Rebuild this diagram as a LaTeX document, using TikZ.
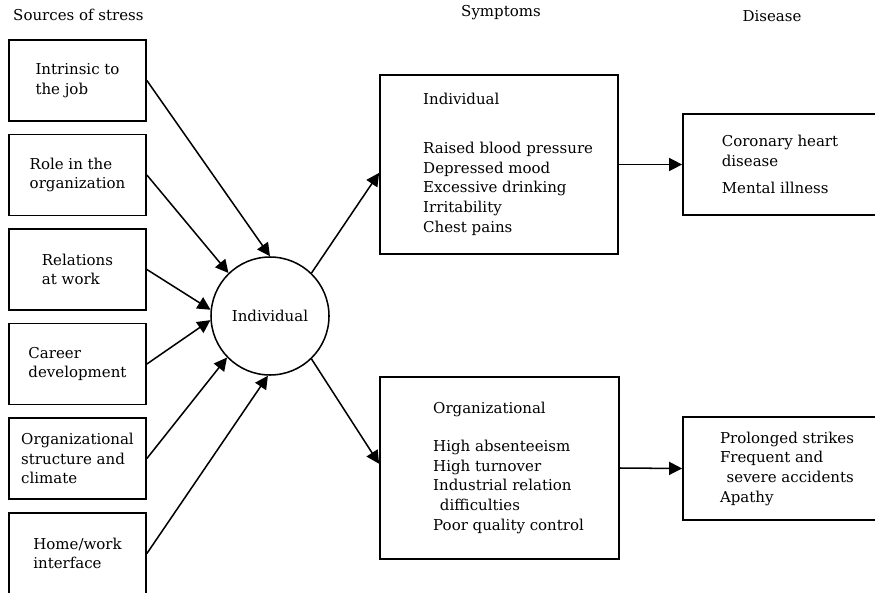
\documentclass[tikz,border=0pt]{standalone}
\usepackage{fontspec}
\setmainfont{DejaVu Serif}
\usetikzlibrary{arrows.meta,positioning}

\begin{document}
\begin{tikzpicture}[
  x=0.03cm, y=-0.03cm,
  font=\fontsize{12.8}{16.8}\selectfont,
  box/.style={draw, line width=1.5pt, align=left, inner sep=0pt},
  srcbox/.style={box, minimum width=4.11cm, minimum height=2.43cm},
  hub/.style={circle, draw, line width=1.3pt, minimum size=3.54cm, inner sep=0pt},
  head/.style={inner sep=0pt},
  list/.style={align=left, inner sep=0pt, anchor=west},
  edge/.style={-{Triangle[length=3.9mm, width=3.9mm]}, line width=1.3pt},
]
  \useasboundingbox (0,0) rectangle (875,592);

  \node[head, anchor=west] (hsrc) at (13,15) {Sources of stress};
  \node[head] (hsym) at (501,13) {Symptoms};
  \node[head] (hdis) at (772,16) {Disease};

  \node[srcbox] (s1) at (77.5,80.5) {Intrinsic to\\the job};
  \node[srcbox] (s2) at (77.5,175) {Role in the\\organization};
  \node[srcbox] (s3) at (77.5,269.5) {Relations\\at work};
  \node[srcbox] (s4) at (77.5,364) {Career\\development};
  \node[srcbox] (s5) at (77.5,458.5) {Organizational\\structure and\\climate};
  \node[srcbox] (s6) at (77.5,553.5) {Home/work\\interface};

  \node[hub] (ind) at (270,316) {Individual};

  \node[box, minimum width=7.14cm, minimum height=5.37cm] (sym1) at (499,164.5) {};
  \node[list] (sym1txt) at (423,164.5)
    {Individual\\[0.87cm]Raised blood pressure\\Depressed mood\\Excessive drinking\\Irritability\\Chest pains};
  \node[box, minimum width=7.17cm, minimum height=5.46cm] (sym2) at (499.5,468) {};
  \node[list] (sym2txt) at (433,468)
    {Organizational\\[0.54cm]High absenteeism\\High turnover\\Industrial relation\\\hspace*{0.2cm}difficulties\\Poor quality control};

  \node[box, minimum width=5.82cm, minimum height=3.03cm] (dis1) at (780,164.5)
    {Coronary heart\\disease\\[0.21cm]Mental illness};
  \node[box, minimum width=6.24cm, minimum height=3.09cm] (dis2) at (787,468.5)
    {Prolonged strikes\\Frequent and\\\hspace*{0.2cm}severe accidents\\Apathy};

  \draw[edge] (s1.east) -- (ind.90);
  \draw[edge] (s2.east) -- (ind.134);
  \draw[edge] (s3.east) -- (ind.174);
  \draw[edge] (s4.east) -- (ind.184);
  \draw[edge] (s5.east) -- (ind.224);
  \draw[edge] (s6.east) -- (ind.268);

  \draw[edge] (ind.46) -- (sym1.184);
  \draw[edge] (ind.314) -- (sym2.178);
  \draw[edge] (sym1.east) -- (dis1.west);
  \draw[edge] (sym2.east) -- (dis2.west);
\end{tikzpicture}
\end{document}
